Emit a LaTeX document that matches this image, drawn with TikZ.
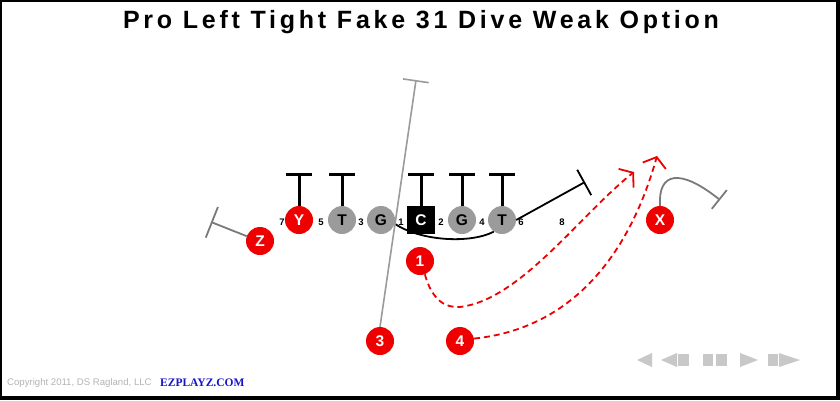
\documentclass[tikz,border=0pt]{standalone}
\usepackage{fontspec}
\setmainfont{Liberation Sans}
\newfontfamily\titlefont[LetterSpace=15]{Liberation Sans}
\newfontfamily\serifbold{Liberation Serif}
\usetikzlibrary{arrows.meta}
\definecolor{pred}{HTML}{EE0000}
\definecolor{pgray}{HTML}{9B9B9B}
\definecolor{rgray}{HTML}{7A7A7A}
\definecolor{ctrl}{HTML}{C8C8C8}
\definecolor{cpy}{HTML}{B4B4B4}
\definecolor{ezblue}{HTML}{1414C8}
\tikzset{
  plr/.style={circle, minimum size=28pt, inner sep=0pt, font=\fontsize{15.5}{15.5}\selectfont\bfseries},
  redp/.style={plr, fill=pred, text=white},
  grayp/.style={plr, fill=pgray, text=black},
  ctr/.style={rectangle, minimum size=28pt, inner sep=0pt, fill=black, text=white, font=\fontsize{15.5}{15.5}\selectfont\bfseries},
  hole/.style={inner sep=0pt, font=\fontsize{9.5}{9.5}\selectfont\bfseries},
  blockline/.style={line width=3pt, black, -{Bar[width=26pt, line width=3pt]}},
  blkroute/.style={line width=1.8pt, black},
  grayroute/.style={line width=1.8pt, rgray},
  grayroute2/.style={line width=1.6pt, pgray},
  runroute/.style={line width=1.8pt, pred, dash pattern=on 6pt off 4pt, -{Straight Barb[length=9pt, width=24pt, line width=1.8pt]}},
  ctrlshape/.style={fill=ctrl, draw=none}
}
\begin{document}
\begin{tikzpicture}[x=1pt, y=-1pt]
\useasboundingbox (0,0) rectangle (840,400);
\fill[white] (0,0) rectangle (840,400);
% frame
\fill[black] (0,0) rectangle (840,2);
\fill[black] (0,0) rectangle (2,400);
\fill[black] (836,0) rectangle (840,400);
\fill[black] (0,396) rectangle (840,400);

\node[font=\titlefont\fontsize{25}{25}\selectfont\bfseries] (title) at (421,22) {Pro Left Tight Fake 31 Dive Weak Option};

% players
\node[redp] (Z) at (260,241) {Z};
\node[redp] (Y) at (299,220) {Y};
\node[grayp] (LT) at (342,220) {T};
\node[grayp] (LG) at (381,220) {G};
\node[ctr] (C) at (421,220) {C};
\node[grayp] (RG) at (462,220) {G};
\node[grayp] (RT) at (502,220) {T};
\node[redp] (X) at (660,220) {X};
\node[redp] (B1) at (420,261) {1};
\node[redp] (B3) at (380,341) {3};
\node[redp] (B4) at (460,341) {4};

% holes
\node[hole] (h7) at (282,222) {7};
\node[hole] (h5) at (321,222) {5};
\node[hole] (h3) at (361,222) {3};
\node[hole] (h1) at (401,222) {1};
\node[hole] (h2) at (441,222) {2};
\node[hole] (h4) at (482,222) {4};
\node[hole] (h6) at (521,222) {6};
\node[hole] (h8) at (562,222) {8};

% blocks
\foreach \p in {Y,LT,C,RG,RT}{
  \draw[blockline] (\p.north) -- ++(0,-33);
}

% fake line
\draw[blkroute] (LG.-15) .. controls (420,241) and (470,244) .. (RT.235);
\coordinate (RTend) at (585,182);
\draw[blkroute, -{Bar[width=29pt, line width=1.8pt]}] (RT.east) -- (RTend);

% Z route
\coordinate (Zend) at (211,222);
\draw[grayroute, -{Bar[width=33pt, line width=1.8pt]}] (Z.160) -- (Zend);

% X route
\coordinate (Xend) at (720,200);
\draw[grayroute, -{Bar[width=24pt, line width=1.8pt]}] (X.north) .. controls (658,172) and (680,168) .. (Xend);

% 3 route
\coordinate (B3end) at (416,80);
\draw[grayroute2, -{Bar[width=26pt, line width=1.6pt]}] (B3.north) -- (B3end);

% pass routes
\coordinate (R1end) at (634,172);
\draw[runroute] (B1.-70) .. controls (432,300) and (445,308) .. (460,307) .. controls (520,300) and (580,215) .. (R1end);
\coordinate (R4end) at (657,156);
\draw[runroute] (B4.10) .. controls (560,330) and (625,270) .. (R4end);

% controls
\fill[ctrlshape] (637,360) -- (652,353) -- (652,367) -- cycle;
\fill[ctrlshape] (661,360) -- (677,353) -- (677,367) -- cycle;
\fill[ctrlshape] (678,354) rectangle (689,366);
\fill[ctrlshape] (703,354) rectangle (713,366);
\fill[ctrlshape] (716,354) rectangle (727,366);
\fill[ctrlshape] (740,353) -- (758,360) -- (740,367) -- cycle;
\fill[ctrlshape] (768,354) rectangle (778,366);
\fill[ctrlshape] (779,353) -- (800,360) -- (779,367) -- cycle;

% footer
\node[anchor=west, inner sep=0pt, text=cpy, font=\fontsize{9.6}{9.6}\selectfont] (copy) at (7,383) {Copyright 2011, DS Ragland, LLC};
\node[anchor=west, inner sep=0pt, text=ezblue, font=\serifbold\fontsize{11.5}{11.5}\selectfont\bfseries] (ez) at (160,383) {EZPLAYZ.COM};
\end{tikzpicture}
\end{document}
